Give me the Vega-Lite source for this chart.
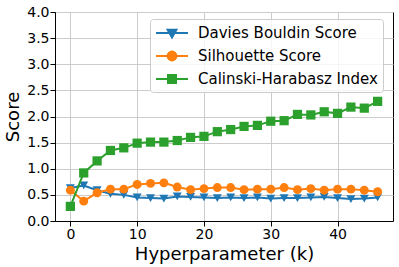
{
  "$schema": "https://vega.github.io/schema/vega-lite/v6.json",
  "width": 338,
  "height": 209,
  "autosize": {"type": "none"},
  "padding": {"left": 55, "top": 12, "right": 6, "bottom": 46},
  "background": "white",
  "config": {
    "font": "DejaVu Sans",
    "view": {"stroke": "black", "strokeWidth": 1},
    "axis": {
      "domainColor": "black",
      "tickColor": "black",
      "tickSize": 5,
      "labelColor": "black",
      "titleColor": "black",
      "labelFontSize": 14,
      "titleFontSize": 18,
      "titleFontWeight": "normal",
      "gridColor": "#cccccc",
      "gridWidth": 1,
      "labelFont": "DejaVu Sans",
      "titleFont": "DejaVu Sans"
    }
  },
  "data": {
    "values": [
      {"k": 0, "metric": "Davies Bouldin Score", "value": 0.63},
      {"k": 2, "metric": "Davies Bouldin Score", "value": 0.68},
      {"k": 4, "metric": "Davies Bouldin Score", "value": 0.59},
      {"k": 6, "metric": "Davies Bouldin Score", "value": 0.52},
      {"k": 8, "metric": "Davies Bouldin Score", "value": 0.50},
      {"k": 10, "metric": "Davies Bouldin Score", "value": 0.45},
      {"k": 12, "metric": "Davies Bouldin Score", "value": 0.44},
      {"k": 14, "metric": "Davies Bouldin Score", "value": 0.43},
      {"k": 16, "metric": "Davies Bouldin Score", "value": 0.47},
      {"k": 18, "metric": "Davies Bouldin Score", "value": 0.46},
      {"k": 20, "metric": "Davies Bouldin Score", "value": 0.45},
      {"k": 22, "metric": "Davies Bouldin Score", "value": 0.44},
      {"k": 24, "metric": "Davies Bouldin Score", "value": 0.45},
      {"k": 26, "metric": "Davies Bouldin Score", "value": 0.44},
      {"k": 28, "metric": "Davies Bouldin Score", "value": 0.45},
      {"k": 30, "metric": "Davies Bouldin Score", "value": 0.43},
      {"k": 32, "metric": "Davies Bouldin Score", "value": 0.44},
      {"k": 34, "metric": "Davies Bouldin Score", "value": 0.44},
      {"k": 36, "metric": "Davies Bouldin Score", "value": 0.45},
      {"k": 38, "metric": "Davies Bouldin Score", "value": 0.46},
      {"k": 40, "metric": "Davies Bouldin Score", "value": 0.44},
      {"k": 42, "metric": "Davies Bouldin Score", "value": 0.42},
      {"k": 44, "metric": "Davies Bouldin Score", "value": 0.43},
      {"k": 46, "metric": "Davies Bouldin Score", "value": 0.45},
      {"k": 0, "metric": "Silhouette Score", "value": 0.59},
      {"k": 2, "metric": "Silhouette Score", "value": 0.38},
      {"k": 4, "metric": "Silhouette Score", "value": 0.54},
      {"k": 6, "metric": "Silhouette Score", "value": 0.61},
      {"k": 8, "metric": "Silhouette Score", "value": 0.61},
      {"k": 10, "metric": "Silhouette Score", "value": 0.70},
      {"k": 12, "metric": "Silhouette Score", "value": 0.72},
      {"k": 14, "metric": "Silhouette Score", "value": 0.73},
      {"k": 16, "metric": "Silhouette Score", "value": 0.65},
      {"k": 18, "metric": "Silhouette Score", "value": 0.60},
      {"k": 20, "metric": "Silhouette Score", "value": 0.62},
      {"k": 22, "metric": "Silhouette Score", "value": 0.64},
      {"k": 24, "metric": "Silhouette Score", "value": 0.64},
      {"k": 26, "metric": "Silhouette Score", "value": 0.60},
      {"k": 28, "metric": "Silhouette Score", "value": 0.61},
      {"k": 30, "metric": "Silhouette Score", "value": 0.61},
      {"k": 32, "metric": "Silhouette Score", "value": 0.64},
      {"k": 34, "metric": "Silhouette Score", "value": 0.60},
      {"k": 36, "metric": "Silhouette Score", "value": 0.62},
      {"k": 38, "metric": "Silhouette Score", "value": 0.59},
      {"k": 40, "metric": "Silhouette Score", "value": 0.61},
      {"k": 42, "metric": "Silhouette Score", "value": 0.61},
      {"k": 44, "metric": "Silhouette Score", "value": 0.59},
      {"k": 46, "metric": "Silhouette Score", "value": 0.56},
      {"k": 0, "metric": "Calinski-Harabasz Index", "value": 0.28},
      {"k": 2, "metric": "Calinski-Harabasz Index", "value": 0.92},
      {"k": 4, "metric": "Calinski-Harabasz Index", "value": 1.15},
      {"k": 6, "metric": "Calinski-Harabasz Index", "value": 1.35},
      {"k": 8, "metric": "Calinski-Harabasz Index", "value": 1.40},
      {"k": 10, "metric": "Calinski-Harabasz Index", "value": 1.49},
      {"k": 12, "metric": "Calinski-Harabasz Index", "value": 1.51},
      {"k": 14, "metric": "Calinski-Harabasz Index", "value": 1.51},
      {"k": 16, "metric": "Calinski-Harabasz Index", "value": 1.54},
      {"k": 18, "metric": "Calinski-Harabasz Index", "value": 1.60},
      {"k": 20, "metric": "Calinski-Harabasz Index", "value": 1.62},
      {"k": 22, "metric": "Calinski-Harabasz Index", "value": 1.71},
      {"k": 24, "metric": "Calinski-Harabasz Index", "value": 1.75},
      {"k": 26, "metric": "Calinski-Harabasz Index", "value": 1.81},
      {"k": 28, "metric": "Calinski-Harabasz Index", "value": 1.83},
      {"k": 30, "metric": "Calinski-Harabasz Index", "value": 1.91},
      {"k": 32, "metric": "Calinski-Harabasz Index", "value": 1.92},
      {"k": 34, "metric": "Calinski-Harabasz Index", "value": 2.04},
      {"k": 36, "metric": "Calinski-Harabasz Index", "value": 2.03},
      {"k": 38, "metric": "Calinski-Harabasz Index", "value": 2.09},
      {"k": 40, "metric": "Calinski-Harabasz Index", "value": 2.06},
      {"k": 42, "metric": "Calinski-Harabasz Index", "value": 2.18},
      {"k": 44, "metric": "Calinski-Harabasz Index", "value": 2.16},
      {"k": 46, "metric": "Calinski-Harabasz Index", "value": 2.29}
    ]
  },
  "encoding": {
    "x": {
      "field": "k",
      "type": "quantitative",
      "scale": {"domain": [-2.3, 48.3], "nice": false, "zero": false},
      "axis": {"values": [0, 10, 20, 30, 40], "title": "Hyperparameter (k)", "titlePadding": 4, "labelPadding": 1, "labelFlush": false}
    },
    "y": {
      "field": "value",
      "type": "quantitative",
      "scale": {"domain": [0, 4], "nice": false},
      "axis": {"values": [0, 0.5, 1, 1.5, 2, 2.5, 3, 3.5, 4], "format": ".1f", "title": "Score", "titlePadding": 4, "labelPadding": 1, "labelFlush": false}
    },
    "color": {
      "field": "metric",
      "type": "nominal",
      "scale": {
        "domain": ["Davies Bouldin Score", "Silhouette Score", "Calinski-Harabasz Index"],
        "range": ["#1f77b4", "#ff7f0e", "#2ca02c"]
      },
      "legend": {
        "title": null,
        "orient": "none",
        "legendX": 95,
        "legendY": 7,
        "labelFont": "DejaVu Sans",
        "labelFontSize": 15,
        "labelColor": "black",
        "labelLimit": 0,
        "symbolSize": 256,
        "symbolOffset": 8,
        "labelOffset": 17,
        "rowPadding": 5,
        "padding": 5,
        "strokeColor": "#cccccc",
        "fillColor": "rgba(255,255,255,0.8)",
        "cornerRadius": 3,
        "encode": {
          "symbols": {
            "update": {
              "shape": {"signal": "datum.value === 'Davies Bouldin Score' ? 'M-2,0H2M-0.55,-0.4H0.55L0,0.55Z' : datum.value === 'Silhouette Score' ? 'M-2,0H2M0.55,0A0.55,0.55,0,1,1,-0.55,0A0.55,0.55,0,1,1,0.55,0Z' : 'M-2,0H2M-0.5,-0.5H0.5V0.5H-0.5Z'"},
              "fill": {"scale": "color", "field": "value"},
              "stroke": {"scale": "color", "field": "value"},
              "strokeWidth": {"value": 2},
              "opacity": {"value": 1},
              "fillOpacity": {"value": 1}
            }
          }
        }
      }
    }
  },
  "layer": [
    {
      "transform": [{"filter": "datum.metric === 'Davies Bouldin Score'"}],
      "mark": {"type": "line", "strokeWidth": 2, "point": {"shape": "triangle-down", "filled": true, "size": 80, "opacity": 1}}
    },
    {
      "transform": [{"filter": "datum.metric === 'Silhouette Score'"}],
      "mark": {"type": "line", "strokeWidth": 2, "point": {"shape": "circle", "filled": true, "size": 80, "opacity": 1}}
    },
    {
      "transform": [{"filter": "datum.metric === 'Calinski-Harabasz Index'"}],
      "mark": {"type": "line", "strokeWidth": 2, "point": {"shape": "square", "filled": true, "size": 85, "opacity": 1}}
    }
  ]
}
